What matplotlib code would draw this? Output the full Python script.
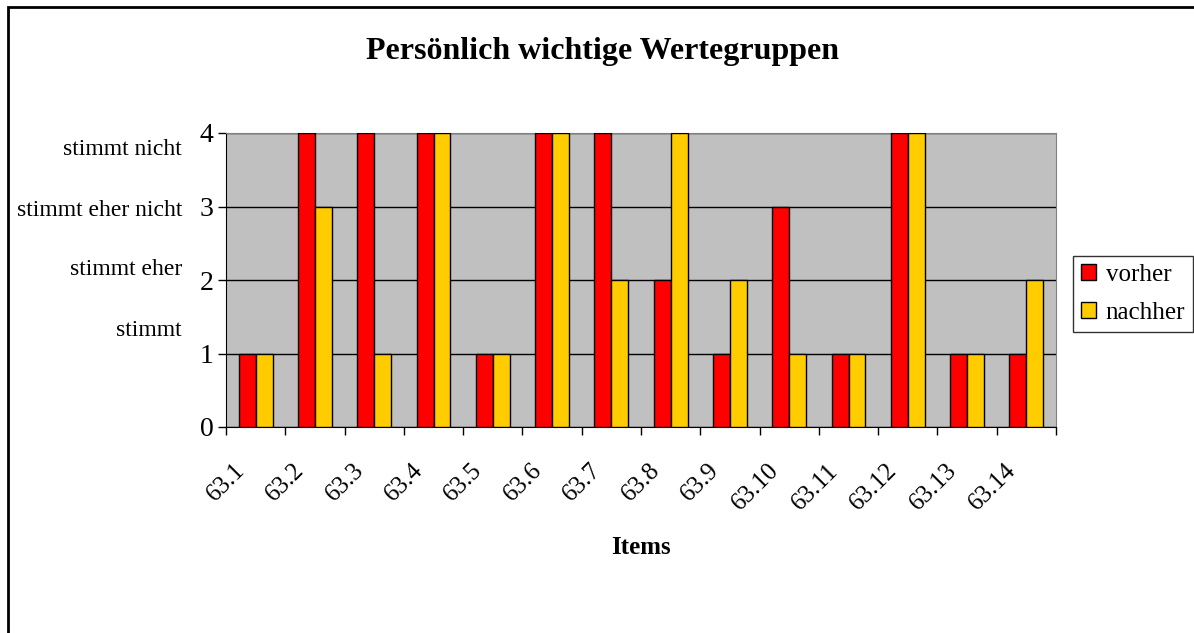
import matplotlib.pyplot as plt
import matplotlib.transforms as mtransforms
from matplotlib.patches import Rectangle
import numpy as np

plt.rcParams['font.family'] = ['Liberation Serif', 'DejaVu Serif']

items = ['63.1', '63.2', '63.3', '63.4', '63.5', '63.6', '63.7',
         '63.8', '63.9', '63.10', '63.11', '63.12', '63.13', '63.14']
vorher = [1, 4, 4, 4, 1, 4, 4, 2, 1, 3, 1, 4, 1, 1]
nachher = [1, 3, 1, 4, 1, 4, 2, 4, 2, 1, 1, 4, 1, 2]
scale_labels = ['stimmt nicht', 'stimmt eher nicht', 'stimmt eher', 'stimmt']
scale_pos = [3.77, 2.95, 2.14, 1.31]

fig = plt.figure(figsize=(11.94, 6.33), dpi=100)
ax = fig.add_axes([226/1194, 1-427/633, 830/1194, 294/633])
ax.set_facecolor('#C0C0C0')

x = np.arange(len(items))
w = 1/3.5
ax.bar(x - w/2, vorher, w, color='#FF0000', edgecolor='black', linewidth=1, label='vorher', zorder=3)
ax.bar(x + w/2, nachher, w, color='#FFCC00', edgecolor='black', linewidth=1, label='nachher', zorder=3)

ax.set_xlim(-0.5, len(items) - 0.5)
ax.set_ylim(0, 4)
ax.set_yticks([0, 1, 2, 3, 4])
ax.tick_params(axis='y', labelsize=20, length=6, width=1, pad=3)
ax.yaxis.grid(True, color='black', linewidth=1, zorder=1)
ax.set_axisbelow(True)

ax.set_xticks(x)
ax.set_xticklabels(items, rotation=45, ha='right', va='center', rotation_mode='anchor', fontsize=18)
ax.tick_params(axis='x', length=0, pad=29)
shift = mtransforms.ScaledTranslation(-14/100, 0, fig.dpi_scale_trans)
for lab in ax.get_xticklabels():
    lab.set_transform(lab.get_transform() + shift)
ax.set_xticks(np.arange(len(items) + 1) - 0.5, minor=True)
ax.tick_params(axis='x', which='minor', length=6, width=1)

for s in ['top', 'right']:
    ax.spines[s].set_color('#808080')
for s in ['left', 'bottom']:
    ax.spines[s].set_color('black')

trans = mtransforms.blended_transform_factory(ax.transAxes, ax.transData)
for lab, pos in zip(scale_labels, scale_pos):
    ax.text(-0.053, pos, lab, transform=trans, ha='right', va='center', fontsize=17)

fig.text(603/1194, 1-52/633, 'Persönlich wichtige Wertegruppen', ha='center', va='center',
         fontsize=23, fontweight='bold')
fig.text(641/1194, 1-548/633, 'Items', ha='center', va='center', fontsize=18, fontweight='bold')

leg = ax.legend(loc='center left', bbox_to_anchor=(1073/1194, 1-294/633), bbox_transform=fig.transFigure,
                fontsize=18, frameon=True, fancybox=False, edgecolor='black', handlelength=0.6,
                handleheight=0.6, handletextpad=0.4, borderpad=0.3, labelspacing=0.65, borderaxespad=0)
leg.get_frame().set_linewidth(1)

fig.patches.append(Rectangle((8/1194, -0.1), 1.2, 1 - 7/633 + 0.1, transform=fig.transFigure,
                             fill=False, edgecolor='black', linewidth=2))

fig.savefig('out.png', dpi=100)
